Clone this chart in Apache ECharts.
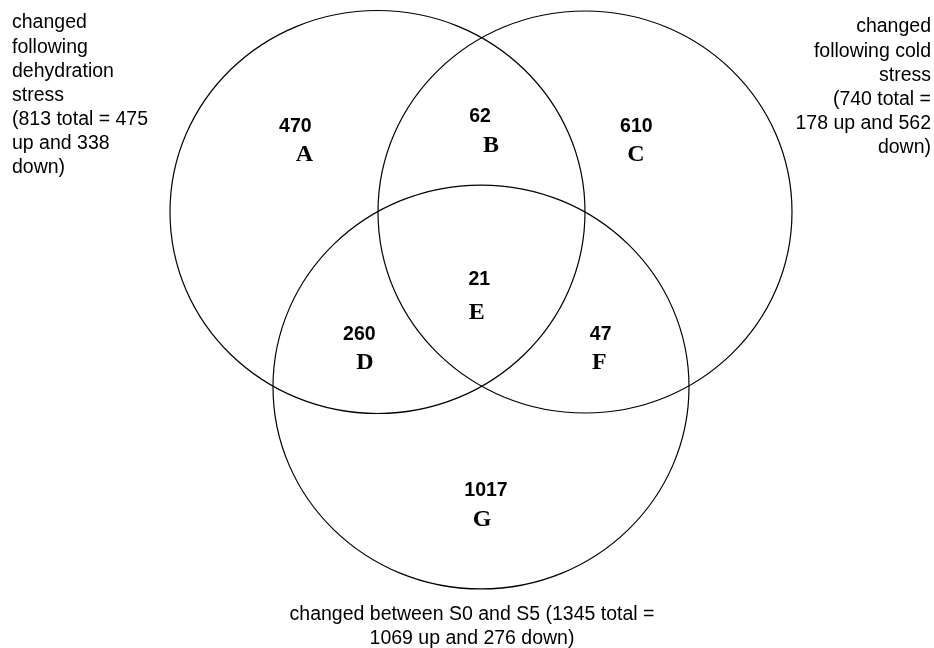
<!DOCTYPE html>
<html>
<head>
<meta charset="utf-8">
<script src="https://cdn.jsdelivr.net/npm/echarts@6/dist/echarts.min.js"></script>
<style>
  html, body { margin: 0; padding: 0; background: #fff; }
  #chart { width: 934px; height: 648px; }
</style>
</head>
<body>
<div id="chart"></div>
<script>
// ---- data ----
const regionLetters = ['A', 'B', 'C', 'D', 'E', 'F', 'G'];
const regionCounts = [470, 62, 610, 260, 21, 47, 1017];
const setTotals = [813, 740, 1345];
const setUp = [475, 178, 1069];
const setDown = [338, 562, 276];

// ---- layout (positions / sizes, not data) ----
const circleLayout = [
  [377.5, 212, 207.5],
  [585, 212, 207],
  [481, 387, 208]
];
const ASPECT = 0.971;
const labelAnchors = [
  [295.3, 126.7, 304.3, 154.7],
  [480, 116.7, 491, 145.7],
  [636.3, 126.7, 636, 155],
  [359.3, 335, 365, 362.7],
  [479.3, 280, 476.7, 312.7],
  [600.7, 335, 599.3, 362.7],
  [486, 490.7, 482, 519.3]
];

const sans = '"Liberation Sans", Arial, sans-serif';
const serif = '"Liberation Serif", "Times New Roman", serif';

const leftText = 'changed\nfollowing\ndehydration\nstress\n(' + setTotals[0] + ' total = ' + setUp[0] +
  '\nup and ' + setDown[0] + '\ndown)';
const rightText = 'changed\nfollowing cold\nstress\n(' + setTotals[1] + ' total =\n' + setUp[1] +
  ' up and ' + setDown[1] + '\ndown)';
const bottomText = 'changed between S0 and S5 (' + setTotals[2] + ' total =\n' + setUp[2] +
  ' up and ' + setDown[2] + ' down)';

const chart = echarts.init(document.getElementById('chart'), null, { renderer: 'canvas' });
chart.setOption({
  backgroundColor: '#ffffff',
  animation: false,
  grid: { left: 0, right: 0, top: 0, bottom: 0 },
  xAxis: { type: 'value', min: 0, max: 934, show: false },
  yAxis: { type: 'value', min: 0, max: 648, inverse: true, show: false },
  series: [
    {
      type: 'custom',
      silent: true,
      data: circleLayout,
      renderItem: function (params, api) {
        const c = api.coord([api.value(0), api.value(1)]);
        const r = api.value(2);
        const rx = api.size([r, 0])[0];
        const ry = api.size([0, r * ASPECT])[1];
        return {
          type: 'ellipse',
          shape: { cx: c[0], cy: c[1], rx: rx, ry: ry },
          style: { fill: 'none', stroke: '#000', lineWidth: 1.2 }
        };
      }
    },
    {
      type: 'custom',
      silent: true,
      data: labelAnchors,
      renderItem: function (params, api) {
        const i = params.dataIndex;
        const n = api.coord([api.value(0), api.value(1)]);
        const l = api.coord([api.value(2), api.value(3)]);
        return {
          type: 'group',
          children: [
            {
              type: 'text',
              style: {
                text: String(regionCounts[i]), x: n[0], y: n[1],
                align: 'center', verticalAlign: 'middle',
                fontFamily: sans, fontWeight: 'bold', fontSize: 19.5, fill: '#000'
              }
            },
            {
              type: 'text',
              style: {
                text: regionLetters[i], x: l[0], y: l[1],
                align: 'center', verticalAlign: 'middle',
                fontFamily: serif, fontWeight: 'bold', fontSize: 24, fill: '#000'
              }
            }
          ]
        };
      }
    }
  ],
  graphic: [
    {
      type: 'text', x: 12, y: 11,
      style: { text: leftText, fontFamily: sans, fontSize: 19.5, lineHeight: 24.1, fill: '#000',
               align: 'left', verticalAlign: 'top' }
    },
    {
      type: 'text', x: 931, y: 15,
      style: { text: rightText, fontFamily: sans, fontSize: 19.5, lineHeight: 24.1, fill: '#000',
               align: 'right', verticalAlign: 'top' }
    },
    {
      type: 'text', x: 472, y: 603,
      style: { text: bottomText, fontFamily: sans, fontSize: 19.5, lineHeight: 23.5, fill: '#000',
               align: 'center', verticalAlign: 'top' }
    }
  ]
});
</script>
</body>
</html>
